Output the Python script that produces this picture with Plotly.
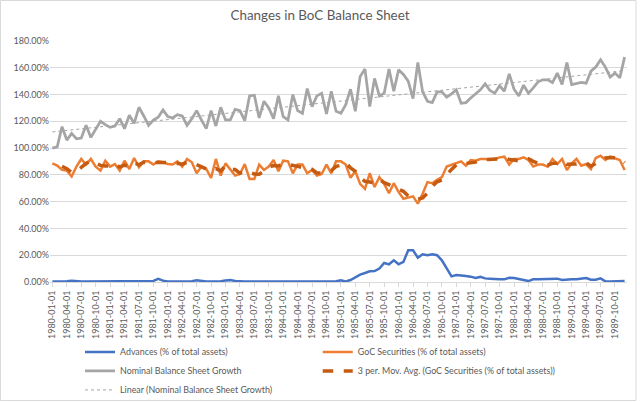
import numpy as np
import pandas as pd
import plotly.graph_objects as go

# monthly categories 1980-01 .. 1989-12
months = pd.date_range("1980-01-01", periods=120, freq="MS").strftime("%Y-%m-%d").tolist()

advances = [
    0.4, 0.4, 0.4, 0.5, 1.0, 0.5, 0.4, 0.4, 0.4, 0.4,
    0.4, 0.4, 0.4, 0.4, 0.5, 0.6, 0.9, 0.5, 0.4, 0.4,
    0.4, 0.8, 2.3, 1.0, 0.4, 0.4, 0.4, 0.4, 0.4, 0.6,
    1.3, 0.6, 0.4, 0.4, 0.4, 0.6, 1.1, 1.4, 0.8, 0.4,
    0.4, 0.4, 0.4, 0.4, 0.4, 0.6, 0.4, 0.4, 0.4, 0.4,
    0.5, 0.4, 0.4, 0.4, 0.4, 0.5, 0.5, 0.4, 0.4, 0.5,
    1.2, 0.4, 1.5, 3.7, 5.5, 6.7, 8.0, 8.2, 10.0, 14.2,
    13.2, 16.2, 13.2, 15.0, 23.7, 23.7, 18.2, 20.7, 20.0, 20.7,
    20.0, 16.2, 10.0, 4.2, 5.2, 5.0, 4.5, 4.0, 3.0, 3.8,
    2.7, 2.5, 2.0, 2.0, 2.0, 3.2, 3.0, 2.0, 1.5, 0.7,
    2.0, 2.0, 2.0, 2.0, 2.0, 2.5, 1.5, 2.0, 2.0, 2.0,
    2.5, 3.0, 1.7, 1.7, 2.7, 0.5, 0.3, 0.3, 0.5, 0.7,
]

goc_securities = [
    88.6, 87.0, 83.7, 83.2, 78.8, 86.2, 91.9, 87.7, 91.9, 86.2,
    83.2, 90.6, 86.2, 88.1, 83.2, 90.6, 84.4, 92.6, 85.7, 90.1,
    90.1, 87.7, 90.1, 89.4, 88.1, 87.7, 90.1, 86.2, 91.9, 89.4,
    81.2, 86.2, 84.4, 77.8, 91.9, 79.5, 88.6, 83.7, 79.5, 80.7,
    88.1, 77.0, 77.0, 87.7, 83.7, 86.2, 91.1, 82.7, 90.6, 90.1,
    81.2, 87.7, 87.7, 81.2, 83.7, 79.5, 80.7, 87.7, 81.2, 90.1,
    90.1, 87.7, 77.8, 82.7, 73.3, 69.6, 81.2, 70.9, 78.3, 73.3,
    66.4, 73.8, 67.2, 62.2, 63.0, 64.0, 58.5, 65.9, 74.6, 73.8,
    76.3, 78.3, 86.2, 87.7, 88.6, 90.1, 86.9, 91.1, 90.6, 91.9,
    91.9, 91.1, 91.9, 93.1, 93.6, 87.7, 91.9, 91.9, 93.1, 91.1,
    86.2, 87.7, 87.7, 86.2, 91.9, 88.1, 91.9, 83.7, 88.6, 91.9,
    86.9, 88.1, 84.4, 92.6, 94.3, 91.1, 93.6, 92.6, 91.1, 83.7,
]

nominal_growth = [
    100.0, 101.0, 116.0, 106.0, 111.0, 107.0, 107.5, 117.0, 108.0, 114.5,
    120.0, 117.5, 115.5, 116.5, 122.0, 114.5, 124.5, 118.5, 130.5, 124.0,
    117.0, 121.0, 123.0, 128.5, 123.5, 122.5, 125.0, 124.0, 117.0, 122.0,
    128.0, 121.0, 114.5, 128.0, 116.5, 130.5, 121.0, 121.0, 129.0, 128.0,
    120.5, 139.0, 139.5, 122.5, 135.0, 130.0, 122.0, 139.0, 123.5, 121.0,
    140.0, 128.0, 126.0, 144.5, 131.0, 139.0, 141.0, 125.5, 142.5, 127.5,
    126.0, 132.5, 144.0, 127.5, 153.5, 159.0, 131.0, 152.0, 139.0, 141.0,
    159.0, 142.5, 158.5, 155.0, 150.0, 137.0, 164.0, 142.0, 135.0, 134.0,
    142.0, 142.0, 138.0, 140.5, 143.5, 133.5, 134.0, 137.5, 140.5, 143.5,
    148.0, 143.0, 141.0, 146.5, 142.5, 155.5, 144.0, 139.0, 147.0, 141.0,
    145.0, 149.5, 151.0, 151.0, 149.0, 156.0, 147.5, 164.0, 147.5, 148.0,
    149.0, 148.5, 157.5, 160.5, 166.0, 160.5, 153.0, 156.0, 152.5, 168.0,
]

y_ticks = [0, 20, 40, 60, 80, 100, 120, 140, 160, 180]

# Excel-style trendlines
goc_ma3 = pd.Series(goc_securities).rolling(3).mean().tolist()
idx = np.arange(len(nominal_growth))
slope, intercept = np.polyfit(idx, nominal_growth, 1)
linear_trend = (slope * idx + intercept).tolist()

txt = "#595959"
grid = "#D9D9D9"
font = "Lato"

fig = go.Figure()
fig.add_trace(go.Scatter(x=months, y=advances, mode="lines",
                         name="Advances (% of total assets)",
                         line=dict(color="#4472C4", width=2.5)))
fig.add_trace(go.Scatter(x=months, y=goc_securities, mode="lines", legend="legend2",
                         name="GoC Securities (% of total assets)",
                         line=dict(color="#ED7D31", width=2.5)))
fig.add_trace(go.Scatter(x=months, y=nominal_growth, mode="lines",
                         name="Nominal Balance Sheet Growth",
                         line=dict(color="#A5A5A5", width=2.75)))
fig.add_trace(go.Scatter(x=months, y=goc_ma3, mode="lines", legend="legend2",
                         name="3 per. Mov. Avg. (GoC Securities (% of total assets))",
                         line=dict(color="#C55A11", width=3.5, dash="dash")))
fig.add_trace(go.Scatter(x=months, y=linear_trend, mode="lines",
                         name="Linear (Nominal Balance Sheet Growth)",
                         line=dict(color="#A5A5A5", width=1, dash="dot")))

leg_style = dict(yanchor="top", y=-0.23, xanchor="left", itemwidth=30,
                 tracegroupgap=0, bgcolor="rgba(0,0,0,0)",
                 font=dict(size=8.9, color=txt))

fig.update_layout(
    width=640, height=402,
    margin=dict(l=50, r=13, t=41, b=120, autoexpand=False),
    paper_bgcolor="white", plot_bgcolor="white",
    font=dict(family=font, size=9, color=txt),
    title=dict(text="Changes in BoC Balance Sheet", x=0.5, xanchor="center",
               y=0.962, yanchor="middle", font=dict(size=13.4, color=txt)),
    legend=dict(x=0.052, **leg_style),
    legend2=dict(x=0.464, **leg_style),
    showlegend=True,
    shapes=[dict(type="rect", xref="paper", yref="paper",
                 x0=-0.0858, x1=1.0156, y0=-0.4917, y1=1.168,
                 line=dict(color=grid, width=1))],
)

fig.update_xaxes(type="category", range=[-0.5, len(months) - 0.5],
                 tickmode="array", tickvals=months[::3], ticktext=months[::3],
                 tickangle=-90, showgrid=False, showline=True, linecolor=grid,
                 ticks="outside", ticklen=4, tickcolor=grid,
                 tickfont=dict(size=9, color=txt))
fig.update_yaxes(range=[0, 180], tickvals=y_ticks,
                 ticktext=[f"{v:.2f}%" for v in y_ticks],
                 showgrid=True, gridcolor=grid, gridwidth=1, zeroline=False,
                 showline=False, tickfont=dict(size=9, color=txt))

# drop the default page margin so the figure sits at the window origin
fig.write_html("out.html", config={"displayModeBar": False},
               post_script="document.body.style.margin='0';")
